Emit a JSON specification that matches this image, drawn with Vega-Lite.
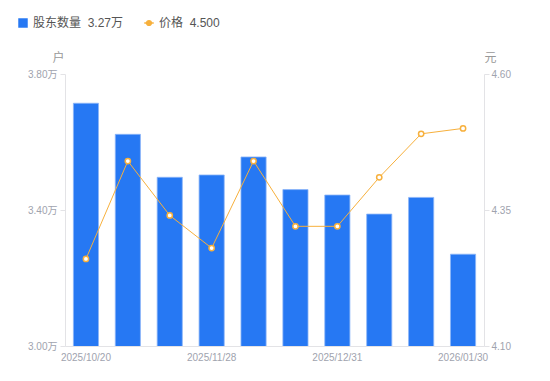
{
  "$schema": "https://vega.github.io/schema/vega-lite/v6.json",
  "width": 419,
  "height": 272,
  "autosize": "none",
  "padding": {"left": 65, "top": 74, "right": 66, "bottom": 35},
  "background": "white",
  "config": {
    "view": {"stroke": null},
    "font": "Liberation Sans, Noto Sans CJK SC",
    "axis": {
      "grid": false,
      "domainColor": "#e3e3e6",
      "tickColor": "#e3e3e6",
      "labelColor": "#a0a3ae",
      "labelFontSize": 10,
      "labelFont": "Liberation Sans, Noto Sans CJK SC",
      "titleFont": "Liberation Sans, Noto Sans CJK SC"
    },
    "legend": {
      "title": null,
      "orient": "none",
      "direction": "horizontal",
      "legendX": -48,
      "legendY": -57,
      "padding": 0,
      "symbolSize": 90,
      "symbolType": "square",
      "labelFontSize": 12,
      "labelColor": "#555555",
      "labelOffset": 4,
      "columnPadding": 17,
      "labelFont": "Liberation Sans, Noto Sans CJK SC"
    }
  },
  "data": {
    "values": [
      {"date": "2025/10/20", "holders": 37140, "price": 4.26},
      {"date": "2025/10/31", "holders": 36226, "price": 4.44},
      {"date": "2025/11/10", "holders": 34962, "price": 4.34},
      {"date": "2025/11/28", "holders": 35030, "price": 4.28},
      {"date": "2025/12/10", "holders": 35560, "price": 4.44},
      {"date": "2025/12/19", "holders": 34600, "price": 4.32},
      {"date": "2025/12/31", "holders": 34440, "price": 4.32},
      {"date": "2026/01/09", "holders": 33880, "price": 4.41},
      {"date": "2026/01/20", "holders": 34370, "price": 4.49},
      {"date": "2026/01/30", "holders": 32700, "price": 4.50}
    ]
  },
  "encoding": {
    "x": {
      "field": "date",
      "type": "ordinal",
      "sort": null,
      "scale": {"paddingInner": 0.4, "paddingOuter": 0.2},
      "axis": {
        "title": null,
        "labelAngle": 0,
        "ticks": false,
        "labelPadding": 6,
        "labelOverlap": false,
        "labelExpr": "indexof(['2025/10/20','2025/11/28','2025/12/31','2026/01/30'], datum.value) >= 0 ? datum.label : ''"
      }
    }
  },
  "layer": [
    {
      "mark": {"type": "bar", "clip": true, "stroke": "#8cb5f7", "strokeWidth": 1, "strokeOpacity": 0.8},
      "encoding": {
        "y": {
          "field": "holders",
          "type": "quantitative",
          "scale": {"domain": [30000, 38000], "zero": false, "nice": false},
          "axis": {
            "orient": "left",
            "values": [30000, 34000, 38000],
            "labelExpr": "format(datum.value/10000, '.2f') + '万'",
            "tickSize": 5,
            "labelPadding": 3,
            "title": "户",
            "titleAngle": 0,
            "titleX": -7,
            "titleY": -17,
            "titleAlign": "center",
            "titleBaseline": "middle",
            "titleColor": "#999999",
            "titleFontSize": 12,
            "titleFontWeight": "normal"
          }
        },
        "color": {
          "datum": "股东数量",
          "scale": {"domain": ["股东数量", "价格"], "range": ["#2678f3", "#f7b03c"]},
          "legend": {
            "labelExpr": "datum.label === '价格' ? '价格\u00a0\u00a04.500' : '股东数量\u00a0\u00a03.27万'",
            "encode": {
              "symbols": {
                "update": {
                  "shape": {"signal": "datum.value === '价格' ? 'M-1,0H-0.5M0.5,0H1M0.5,0A0.5,0.5,0,1,1,-0.5,0A0.5,0.5,0,1,1,0.5,0' : 'square'"},
                  "fill": {"signal": "datum.value === '价格' ? '#ffffff' : '#2678f3'"},
                  "stroke": {"signal": "datum.value === '价格' ? '#f7b03c' : '#2678f3'"},
                  "strokeWidth": {"signal": "datum.value === '价格' ? 1.5 : 0"}
                }
              }
            }
          }
        }
      }
    },
    {
      "mark": {
        "type": "line",
        "strokeWidth": 1,
        "point": {"filled": false, "fill": "white", "size": 28, "strokeWidth": 1.5}
      },
      "encoding": {
        "y": {
          "field": "price",
          "type": "quantitative",
          "scale": {"domain": [4.10, 4.60], "zero": false, "nice": false},
          "axis": {
            "orient": "right",
            "values": [4.10, 4.35, 4.60],
            "format": ".2f",
            "tickSize": 5,
            "labelPadding": 2,
            "title": "元",
            "titleAngle": 0,
            "titleX": 6,
            "titleY": -17,
            "titleAlign": "center",
            "titleBaseline": "middle",
            "titleColor": "#999999",
            "titleFontSize": 12,
            "titleFontWeight": "normal"
          }
        },
        "color": {
          "datum": "价格",
          "legend": {
            "labelExpr": "datum.label === '价格' ? '价格\u00a0\u00a04.500' : '股东数量\u00a0\u00a03.27万'",
            "encode": {
              "symbols": {
                "update": {
                  "shape": {"signal": "datum.value === '价格' ? 'M-1,0H-0.5M0.5,0H1M0.5,0A0.5,0.5,0,1,1,-0.5,0A0.5,0.5,0,1,1,0.5,0' : 'square'"},
                  "fill": {"signal": "datum.value === '价格' ? '#ffffff' : '#2678f3'"},
                  "stroke": {"signal": "datum.value === '价格' ? '#f7b03c' : '#2678f3'"},
                  "strokeWidth": {"signal": "datum.value === '价格' ? 1.5 : 0"}
                }
              }
            }
          }
        }
      }
    }
  ],
  "resolve": {"scale": {"y": "independent"}}
}
